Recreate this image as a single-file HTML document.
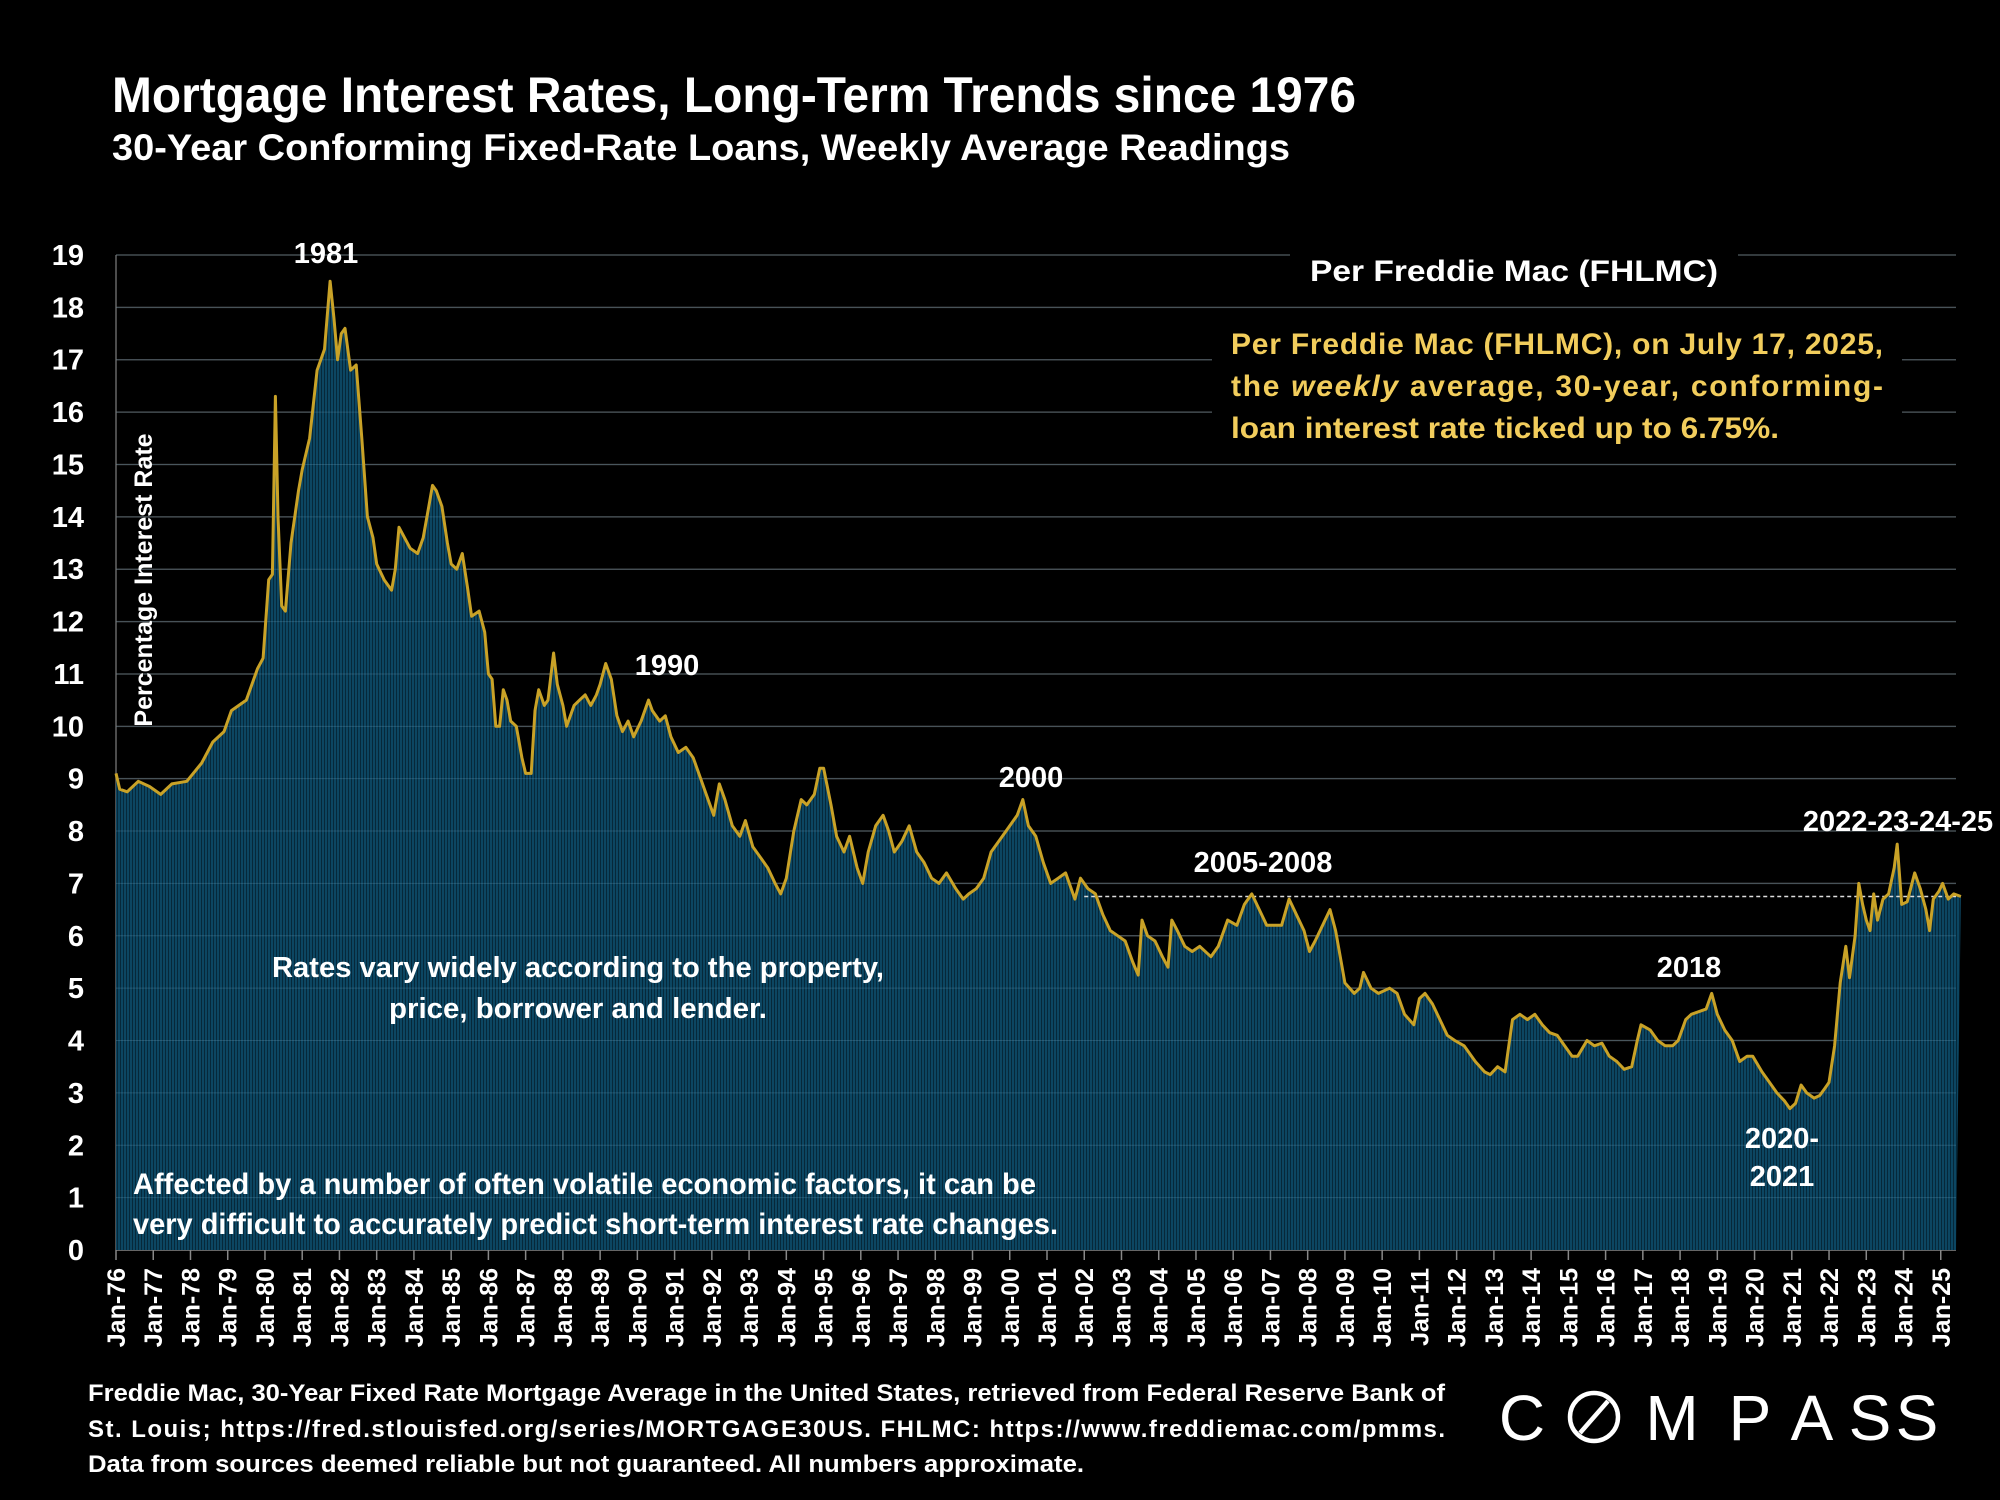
<!DOCTYPE html>
<html><head><meta charset="utf-8">
<style>
html,body{margin:0;padding:0;background:#000;}
svg{display:block;}
text{font-family:"Liberation Sans",sans-serif;fill:#fff;font-weight:bold;}
</style></head>
<body>
<svg id="chart" width="2000" height="1500" viewBox="0 0 2000 1500" xmlns="http://www.w3.org/2000/svg">
<defs>
<pattern id="stripes" width="3" height="10" patternUnits="userSpaceOnUse">
<rect width="3" height="10" fill="#0c4662"/>
<rect width="1" height="10" fill="#06283a"/>
</pattern>
</defs>
<rect width="2000" height="1500" fill="#000"/>
<text x="112" y="112" font-size="50" textLength="1244" lengthAdjust="spacingAndGlyphs">Mortgage Interest Rates, Long-Term Trends since 1976</text>
<text x="112" y="160" font-size="37" textLength="1178" lengthAdjust="spacingAndGlyphs">30-Year Conforming Fixed-Rate Loans, Weekly Average Readings</text>
<g id="grid"></g>
<g id="yticks"></g>
<g id="series"></g>
<g id="xticks"></g>
<text transform="translate(152,580) rotate(-90)" text-anchor="middle" font-size="25">Percentage Interest  Rate</text>
<rect x="1290" y="245" width="448" height="52" fill="#000"/>
<text x="1514" y="281" text-anchor="middle" font-size="30" textLength="408" lengthAdjust="spacingAndGlyphs">Per Freddie Mac (FHLMC)</text>
<rect x="1212" y="312" width="690" height="142" fill="#000"/>
<g font-size="30" style="font-size:30px">
<text x="1231" y="354" textLength="652" lengthAdjust="spacing" style="fill:#f2cd5c">Per Freddie Mac (FHLMC), on July 17, 2025,</text>
<text x="1231" y="396" textLength="652" lengthAdjust="spacing" style="fill:#f2cd5c">the  <tspan font-style="italic">weekly</tspan>  average,  30-year,  conforming-</text>
<text x="1231" y="438" textLength="548" lengthAdjust="spacingAndGlyphs" style="fill:#f2cd5c">loan interest rate ticked up to 6.75%.</text>
</g>
<g font-size="29" text-anchor="middle">
<text x="326" y="263">1981</text>
<text x="667" y="675">1990</text>
<text x="1031" y="787">2000</text>
<text x="1263" y="872">2005-2008</text>
<text x="1689" y="977">2018</text>
<text x="1782" y="1148">2020-</text>
<text x="1782" y="1186">2021</text>
<text x="1898" y="831">2022-23-24-25</text>
</g>
<g font-size="29" text-anchor="middle">
<text x="578" y="977" textLength="612" lengthAdjust="spacingAndGlyphs">Rates vary widely according to the property,</text>
<text x="578" y="1018" textLength="378" lengthAdjust="spacingAndGlyphs">price, borrower and lender.</text>
</g>
<g font-size="30">
<text x="133" y="1194" textLength="903" lengthAdjust="spacingAndGlyphs">Affected by a number of often volatile economic factors, it can be</text>
<text x="133" y="1234" textLength="925" lengthAdjust="spacingAndGlyphs">very difficult to accurately predict short-term interest rate changes.</text>
</g>
<g font-size="24">
<text x="88" y="1401" textLength="1357" lengthAdjust="spacingAndGlyphs">Freddie Mac, 30-Year Fixed Rate Mortgage Average in the United States, retrieved from Federal Reserve Bank of</text>
<text x="88" y="1437" textLength="1357" lengthAdjust="spacing">St.  Louis;  https://fred.stlouisfed.org/series/MORTGAGE30US.  FHLMC:  https://www.freddiemac.com/pmms.</text>
<text x="88" y="1472" textLength="996" lengthAdjust="spacingAndGlyphs">Data from sources deemed reliable but not guaranteed. All numbers approximate.</text>
</g>
<g font-size="64" text-anchor="middle" style="font-weight:normal">
<text x="1522" y="1440" style="font-weight:normal">C</text>
<circle cx="1594" cy="1417" r="24" fill="none" stroke="#fff" stroke-width="4.5"/>
<line x1="1580" y1="1433" x2="1608" y2="1401" stroke="#fff" stroke-width="4.5"/>
<text x="1672" y="1440" style="font-weight:normal">M</text>
<text x="1750" y="1440" style="font-weight:normal">P</text>
<text x="1812" y="1440" style="font-weight:normal">A</text>
<text x="1870" y="1440" style="font-weight:normal">S</text>
<text x="1917" y="1440" style="font-weight:normal">S</text>
</g>
</svg>
<script>
const rateDates = [1976.0,1976.1,1976.3,1976.6,1976.9,1977.2,1977.5,1977.9,1978.3,1978.6,1978.9,1979.1,1979.5,1979.8,1979.95,1980.1,1980.2,1980.28,1980.35,1980.45,1980.55,1980.7,1980.9,1981.0,1981.2,1981.4,1981.6,1981.75,1981.85,1981.95,1982.05,1982.15,1982.3,1982.45,1982.6,1982.75,1982.9,1983.0,1983.2,1983.4,1983.5,1983.6,1983.75,1983.9,1984.1,1984.25,1984.4,1984.5,1984.6,1984.75,1984.9,1985.0,1985.15,1985.3,1985.45,1985.55,1985.75,1985.9,1986.0,1986.1,1986.2,1986.3,1986.4,1986.5,1986.6,1986.75,1986.9,1987.0,1987.15,1987.25,1987.35,1987.5,1987.6,1987.75,1987.85,1988.0,1988.1,1988.3,1988.45,1988.6,1988.75,1988.9,1989.0,1989.15,1989.3,1989.45,1989.6,1989.75,1989.9,1990.1,1990.3,1990.4,1990.6,1990.75,1990.9,1991.1,1991.3,1991.5,1991.7,1991.9,1992.05,1992.2,1992.35,1992.55,1992.75,1992.9,1993.1,1993.3,1993.5,1993.7,1993.85,1994.0,1994.2,1994.4,1994.55,1994.75,1994.9,1995.0,1995.2,1995.35,1995.55,1995.7,1995.9,1996.05,1996.2,1996.4,1996.6,1996.75,1996.9,1997.1,1997.3,1997.5,1997.7,1997.9,1998.1,1998.3,1998.55,1998.75,1998.9,1999.1,1999.3,1999.5,1999.7,1999.9,2000.2,2000.35,2000.5,2000.7,2000.9,2001.1,2001.3,2001.5,2001.75,2001.9,2002.1,2002.3,2002.5,2002.7,2002.9,2003.1,2003.3,2003.45,2003.55,2003.7,2003.9,2004.1,2004.25,2004.35,2004.5,2004.7,2004.9,2005.1,2005.4,2005.6,2005.85,2006.1,2006.3,2006.5,2006.7,2006.9,2007.1,2007.3,2007.5,2007.7,2007.9,2008.05,2008.2,2008.4,2008.6,2008.75,2008.9,2009.0,2009.25,2009.4,2009.5,2009.7,2009.9,2010.2,2010.4,2010.6,2010.85,2011.0,2011.15,2011.35,2011.55,2011.75,2011.95,2012.2,2012.5,2012.75,2012.9,2013.1,2013.3,2013.5,2013.7,2013.9,2014.1,2014.3,2014.5,2014.7,2014.9,2015.1,2015.25,2015.5,2015.7,2015.9,2016.1,2016.3,2016.5,2016.7,2016.85,2016.95,2017.2,2017.4,2017.6,2017.8,2017.95,2018.15,2018.3,2018.5,2018.7,2018.85,2019.0,2019.2,2019.4,2019.6,2019.8,2019.95,2020.2,2020.4,2020.6,2020.8,2020.95,2021.1,2021.25,2021.4,2021.6,2021.75,2021.9,2022.0,2022.15,2022.3,2022.45,2022.55,2022.7,2022.8,2022.9,2023.0,2023.1,2023.2,2023.3,2023.45,2023.6,2023.75,2023.83,2023.95,2024.1,2024.3,2024.45,2024.6,2024.7,2024.8,2024.95,2025.05,2025.2,2025.35,2025.54];
const rateValues = [9.1,8.8,8.75,8.95,8.85,8.7,8.9,8.95,9.3,9.7,9.9,10.3,10.5,11.1,11.3,12.8,12.9,16.3,14.0,12.3,12.2,13.5,14.5,14.9,15.5,16.8,17.2,18.5,17.8,17.0,17.5,17.6,16.8,16.9,15.5,14.0,13.6,13.1,12.8,12.6,13.0,13.8,13.6,13.4,13.3,13.6,14.2,14.6,14.5,14.2,13.5,13.1,13.0,13.3,12.6,12.1,12.2,11.8,11.0,10.9,10.0,10.0,10.7,10.5,10.1,10.0,9.4,9.1,9.1,10.3,10.7,10.4,10.5,11.4,10.8,10.4,10.0,10.4,10.5,10.6,10.4,10.6,10.8,11.2,10.9,10.2,9.9,10.1,9.8,10.1,10.5,10.3,10.1,10.2,9.8,9.5,9.6,9.4,9.0,8.6,8.3,8.9,8.6,8.1,7.9,8.2,7.7,7.5,7.3,7.0,6.8,7.1,8.0,8.6,8.5,8.7,9.2,9.2,8.5,7.9,7.6,7.9,7.3,7.0,7.6,8.1,8.3,8.0,7.6,7.8,8.1,7.6,7.4,7.1,7.0,7.2,6.9,6.7,6.8,6.9,7.1,7.6,7.8,8.0,8.3,8.6,8.1,7.9,7.4,7.0,7.1,7.2,6.7,7.1,6.9,6.8,6.4,6.1,6.0,5.9,5.5,5.25,6.3,6.0,5.9,5.6,5.4,6.3,6.1,5.8,5.7,5.8,5.6,5.8,6.3,6.2,6.6,6.8,6.5,6.2,6.2,6.2,6.7,6.4,6.1,5.7,5.9,6.2,6.5,6.1,5.5,5.1,4.9,5.0,5.3,5.0,4.9,5.0,4.9,4.5,4.3,4.8,4.9,4.7,4.4,4.1,4.0,3.9,3.6,3.4,3.35,3.5,3.4,4.4,4.5,4.4,4.5,4.3,4.15,4.1,3.9,3.7,3.7,4.0,3.9,3.95,3.7,3.6,3.45,3.5,4.0,4.3,4.2,4.0,3.9,3.9,4.0,4.4,4.5,4.55,4.6,4.9,4.5,4.2,4.0,3.6,3.7,3.7,3.4,3.2,3.0,2.85,2.7,2.8,3.15,3.0,2.9,2.95,3.1,3.2,3.9,5.1,5.8,5.2,6.0,7.0,6.6,6.3,6.1,6.8,6.3,6.7,6.8,7.3,7.75,6.6,6.65,7.2,6.9,6.5,6.1,6.7,6.85,7.0,6.7,6.8,6.75];
const yTicks = [0,1,2,3,4,5,6,7,8,9,10,11,12,13,14,15,16,17,18,19];
const xTickYears = [1976,1977,1978,1979,1980,1981,1982,1983,1984,1985,1986,1987,1988,1989,1990,1991,1992,1993,1994,1995,1996,1997,1998,1999,2000,2001,2002,2003,2004,2005,2006,2007,2008,2009,2010,2011,2012,2013,2014,2015,2016,2017,2018,2019,2020,2021,2022,2023,2024,2025];
const currentRate = [6.75];
const refLineStart = [2002.0];

const NS = 'http://www.w3.org/2000/svg';
const X0 = 116, YEARW = 37.24, XR = 1956, Y0 = 1250, YU = (1250 - 255) / 19;
const xs = d => X0 + (d - 1976) * YEARW;
const ys = v => Y0 - v * YU;
function mk(tag, attrs, parent) {
  const e = document.createElementNS(NS, tag);
  for (const k in attrs) e.setAttribute(k, attrs[k]);
  parent.appendChild(e);
  return e;
}
const grid = document.getElementById('grid');
const yt = document.getElementById('yticks');
yTicks.forEach(v => {
  const l = mk('line', {x1: X0, x2: XR, y1: ys(v), y2: ys(v), stroke: v === 0 ? '#888' : '#3a3a3a', 'stroke-width': 1.5}, grid);
  
  
  const t = mk('text', {x: 84, y: ys(v) + 10, 'text-anchor': 'end', 'font-size': 29}, yt);
  t.textContent = v;
  
  
});
mk('line', {x1: X0, x2: X0, y1: ys(19), y2: Y0, stroke: '#666', 'stroke-width': 1.5}, grid);

const series = document.getElementById('series');
let pts = rateDates.map((d, i) => xs(d).toFixed(1) + ',' + ys(rateValues[i]).toFixed(1));
const lastX = xs(rateDates[rateDates.length - 1]);
const area = mk('polygon', {points: X0 + ',' + Y0 + ' ' + pts.join(' ') + ' ' + Math.min(lastX, XR) + ',' + Y0, fill: 'url(#stripes)'}, series);


yTicks.forEach(v => { if (v > 0) mk('line', {x1: X0, x2: XR, y1: ys(v), y2: ys(v), stroke: 'rgba(120,170,200,0.25)', 'stroke-width': 1}, series); });
const ref = mk('line', {x1: xs(refLineStart[0]), x2: XR, y1: ys(currentRate[0]), y2: ys(currentRate[0]), stroke: '#ddd', 'stroke-width': 1.5, 'stroke-dasharray': '4,3'}, series);


const line = mk('polyline', {points: pts.join(' '), fill: 'none', stroke: '#c9a227', 'stroke-width': 3, 'stroke-linejoin': 'round'}, series);



const xt = document.getElementById('xticks');
xTickYears.forEach(y => {
  const x = xs(y);
  mk('line', {x1: x, x2: x, y1: Y0, y2: Y0 + 10, stroke: '#888', 'stroke-width': 1.5}, xt);
  const t = mk('text', {transform: 'translate(' + (x + 9) + ',' + (Y0 + 18) + ') rotate(-90)', 'text-anchor': 'end', 'font-size': 25}, xt);
  t.textContent = 'Jan-' + String(y).slice(2);
  
  
});
</script>
</body></html>
